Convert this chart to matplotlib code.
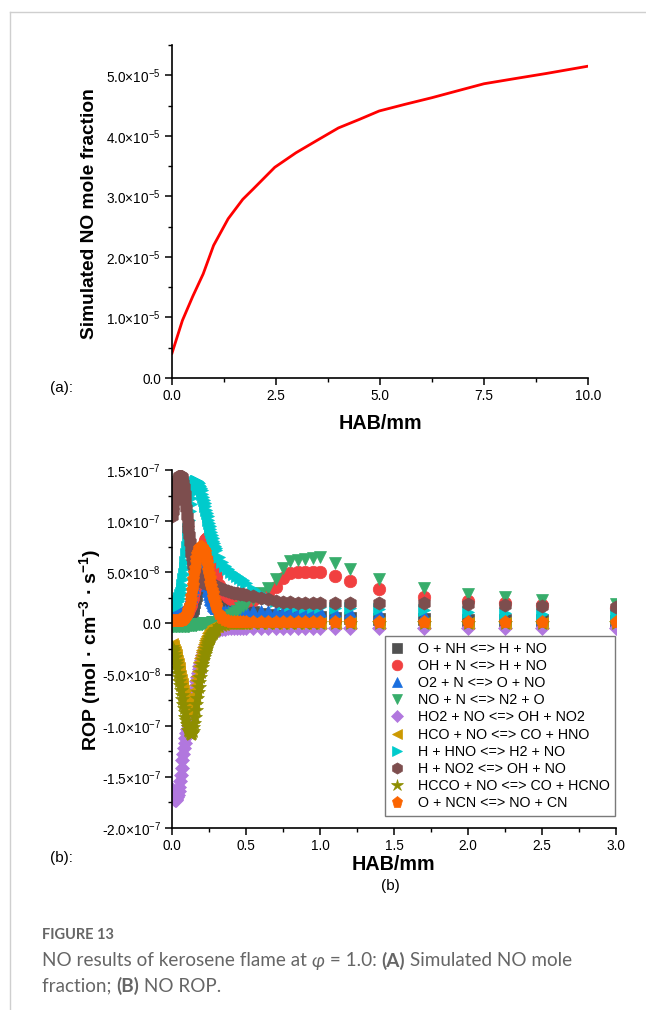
import matplotlib
matplotlib.use('Agg')
import matplotlib.pyplot as plt
from matplotlib.ticker import MultipleLocator, FuncFormatter
from matplotlib.lines import Line2D
import numpy as np

plt.rcParams['font.family'] = ['Liberation Sans', 'DejaVu Sans']
plt.rcParams['mathtext.fontset'] = 'custom'
plt.rcParams['mathtext.rm'] = 'Liberation Sans'
plt.rcParams['mathtext.bf'] = 'Liberation Sans:bold'
plt.rcParams['mathtext.it'] = 'Liberation Sans:italic'

# ---------------- data: panel (a) ----------------
hab_a = [0.0, 0.25, 0.5, 0.75, 1.0, 1.35, 1.7, 1.95, 2.47, 2.98, 3.5, 4.0, 4.5, 4.98, 5.6, 6.25, 6.9, 7.5, 8.2, 9.0, 10.0]
no_frac_e5 = [0.41, 0.95, 1.35, 1.72, 2.19, 2.63, 2.95, 3.12, 3.48, 3.72, 3.93, 4.13, 4.27, 4.41, 4.52, 4.63, 4.75, 4.86, 4.94, 5.03, 5.15]

# ---------------- data: panel (b), ROP in units of 1e-8 mol/cm3/s ----------------
hab_b = [0.000, 0.005, 0.010, 0.015, 0.020, 0.025, 0.030, 0.035, 0.040, 0.045,
         0.050, 0.055, 0.060, 0.065, 0.070, 0.075, 0.080, 0.085, 0.090, 0.095,
         0.100, 0.105, 0.110, 0.115, 0.120, 0.125, 0.130, 0.135, 0.140, 0.145,
         0.150, 0.155, 0.160, 0.165, 0.170, 0.175, 0.180, 0.185, 0.190, 0.195,
         0.200, 0.205, 0.210, 0.215, 0.220, 0.225, 0.230, 0.235, 0.240, 0.245,
         0.250, 0.255, 0.260, 0.265, 0.270, 0.275, 0.280, 0.285, 0.290, 0.295,
         0.300,
         0.32, 0.34, 0.36, 0.38, 0.40, 0.42, 0.44, 0.46, 0.48, 0.50,
         0.55, 0.60, 0.65, 0.70, 0.75, 0.80, 0.85, 0.90, 0.95, 1.00,
         1.1, 1.2, 1.4, 1.7, 2.0, 2.25, 2.5, 3.0]

rop_o_nh = [0.3, 0.3, 0.3, 0.3, 0.3, 0.32, 0.35, 0.35, 0.35, 0.38,
            0.4, 0.4, 0.4, 0.42, 0.45, 0.48, 0.5, 0.52, 0.55, 0.58,
            0.6, 0.68, 0.75, 0.82, 0.9, 1.05, 1.2, 1.35, 1.5, 1.8,
            2.1, 2.45, 2.8, 3.15, 3.5, 3.85, 4.2, 4.45, 4.7, 4.85,
            5.0, 5.05, 5.1, 5.05, 5.0, 4.9, 4.8, 4.65, 4.5, 4.3,
            4.1, 3.95, 3.8, 3.65, 3.5, 3.35, 3.2, 3.1, 3.0, 2.9,
            2.8,
            2.5, 2.3, 2.1, 2.0, 1.9, 1.8, 1.7, 1.6, 1.45, 1.3,
            1.1, 0.9, 0.8, 0.75, 0.7, 0.65, 0.62, 0.6, 0.6, 0.6,
            0.55, 0.5, 0.45, 0.4, 0.35, 0.3, 0.3, 0.25]
rop_oh_n = [0.2, 0.2, 0.2, 0.2, 0.2, 0.22, 0.25, 0.28, 0.3, 0.32,
            0.35, 0.38, 0.4, 0.45, 0.5, 0.55, 0.6, 0.7, 0.8, 0.9,
            1.0, 1.15, 1.3, 1.45, 1.6, 1.8, 2.0, 2.25, 2.5, 2.8,
            3.1, 3.45, 3.8, 4.15, 4.5, 4.9, 5.3, 5.65, 6.0, 6.4,
            6.8, 7.15, 7.5, 7.75, 8.0, 8.15, 8.3, 8.35, 8.3, 8.1,
            7.8, 7.5, 7.2, 6.8, 6.4, 6.0, 5.6, 5.3, 5.0, 4.75,
            4.5,
            3.8, 3.3, 2.9, 2.6, 2.4, 2.3, 2.2, 2.2, 2.2, 2.2,
            2.3, 2.6, 3.0, 3.6, 4.4, 4.9, 5.0, 5.0, 5.0, 5.0,
            4.6, 4.1, 3.4, 2.6, 2.2, 2.0, 1.8, 1.5]
rop_o2_n = [0.8, 0.8, 0.8, 0.8, 0.8, 0.82, 0.85, 0.88, 0.9, 0.92,
            0.95, 0.98, 1.0, 1.05, 1.1, 1.15, 1.2, 1.3, 1.4, 1.5,
            1.6, 1.8, 2.0, 2.2, 2.4, 2.7, 3.0, 3.3, 3.6, 3.95,
            4.3, 4.65, 5.0, 5.35, 5.7, 6.0, 6.2, 6.3, 6.3, 6.2,
            6.0, 5.8, 5.5, 5.15, 4.8, 4.45, 4.1, 3.75, 3.4, 3.15,
            2.9, 2.65, 2.4, 2.25, 2.1, 1.95, 1.8, 1.7, 1.6, 1.55,
            1.5,
            1.3, 1.2, 1.2, 1.2, 1.2, 1.2, 1.2, 1.2, 1.2, 1.2,
            1.2, 1.2, 1.2, 1.2, 1.2, 1.2, 1.2, 1.2, 1.2, 1.2,
            1.15, 1.1, 1.0, 0.8, 0.6, 0.5, 0.45, 0.35]
rop_no_n = [-0.3, -0.3, -0.3, -0.3, -0.3, -0.3, -0.3, -0.3, -0.3, -0.3,
            -0.3, -0.3, -0.3, -0.3, -0.3, -0.3, -0.3, -0.3, -0.3, -0.3,
            -0.25, -0.25, -0.25, -0.22, -0.2, -0.2, -0.2, -0.2, -0.2, -0.18,
            -0.15, -0.15, -0.15, -0.12, -0.1, -0.1, -0.1, -0.08, -0.05, -0.05,
            -0.05, -0.02, 0.0, 0.0, 0.0, 0.0, 0.0, 0.0, 0.0, 0.02,
            0.05, 0.05, 0.05, 0.08, 0.1, 0.1, 0.1, 0.12, 0.15, 0.15,
            0.15,
            0.2, 0.3, 0.45, 0.6, 0.8, 1.0, 1.25, 1.5, 1.7, 1.9,
            2.4, 3.0, 3.5, 4.3, 5.4, 6.1, 6.2, 6.3, 6.4, 6.5,
            5.9, 5.3, 4.3, 3.5, 2.9, 2.6, 2.3, 1.9]
rop_ho2_no = [-16.2, -16.7, -17.0, -17.2, -17.3, -17.3, -17.2, -17.0, -16.8, -16.4,
              -16.0, -15.4, -14.8, -14.1, -13.4, -12.8, -12.2, -11.7, -11.2, -10.7,
              -10.3, -9.9, -9.6, -9.3, -9.0, -8.7, -8.4, -8.05, -7.7, -7.3,
              -6.9, -6.45, -6.0, -5.6, -5.2, -4.85, -4.5, -4.2, -3.9, -3.6,
              -3.3, -3.05, -2.8, -2.6, -2.4, -2.2, -2.0, -1.85, -1.7, -1.55,
              -1.4, -1.3, -1.2, -1.1, -1.0, -0.95, -0.9, -0.85, -0.8, -0.75,
              -0.7,
              -0.6, -0.5, -0.5, -0.45, -0.45, -0.4, -0.4, -0.4, -0.4, -0.4,
              -0.4, -0.4, -0.4, -0.4, -0.4, -0.4, -0.4, -0.4, -0.4, -0.4,
              -0.4, -0.4, -0.4, -0.4, -0.4, -0.4, -0.4, -0.4]
rop_hco_no = [-2.0, -2.2, -2.4, -2.6, -2.8, -3.1, -3.4, -3.7, -4.0, -4.35,
              -4.7, -5.1, -5.5, -5.9, -6.3, -6.65, -7.0, -7.35, -7.7, -7.95,
              -8.2, -8.4, -8.6, -8.7, -8.8, -8.7, -8.5, -8.2, -7.8, -7.4,
              -7.0, -6.5, -6.0, -5.55, -5.1, -4.65, -4.2, -3.8, -3.4, -3.1,
              -2.8, -2.55, -2.3, -2.05, -1.8, -1.6, -1.4, -1.25, -1.1, -0.95,
              -0.8, -0.7, -0.6, -0.52, -0.45, -0.38, -0.3, -0.28, -0.25, -0.22,
              -0.2,
              -0.1, -0.05, 0.0, 0.0, 0.0, 0.0, 0.0, 0.0, 0.0, 0.0,
              0.0, 0.0, 0.0, 0.0, 0.0, 0.0, 0.0, 0.0, 0.0, 0.0,
              0.0, 0.0, 0.0, 0.0, 0.0, 0.0, 0.0, 0.0]
rop_h_hno = [1.5, 1.55, 1.6, 1.65, 1.7, 1.8, 1.9, 2.05, 2.2, 2.35,
             2.5, 2.75, 3.0, 3.4, 3.8, 4.3, 4.8, 5.4, 6.0, 6.75,
             7.5, 8.35, 9.2, 10.1, 11.0, 11.7, 12.3, 12.8, 13.2, 13.5,
             13.7, 13.8, 13.9, 13.9, 13.9, 13.8, 13.7, 13.55, 13.4, 13.2,
             13.0, 12.7, 12.4, 12.1, 11.8, 11.45, 11.1, 10.8, 10.5, 10.15,
             9.8, 9.5, 9.2, 8.9, 8.6, 8.35, 8.1, 7.85, 7.6, 7.4,
             7.2,
             6.5, 6.0, 5.6, 5.3, 5.0, 4.8, 4.6, 4.4, 4.2, 4.0,
             3.4, 2.9, 2.5, 2.2, 1.9, 1.8, 1.7, 1.6, 1.6, 1.6,
             1.5, 1.5, 1.4, 1.3, 1.1, 1.0, 0.9, 0.8]
rop_h_no2 = [10.5, 11.0, 11.5, 12.0, 12.5, 12.95, 13.4, 13.8, 14.1, 14.3,
             14.4, 14.45, 14.4, 14.3, 14.1, 13.75, 13.3, 12.7, 12.0, 11.25,
             10.5, 9.85, 9.2, 8.6, 8.0, 7.45, 6.9, 6.45, 6.0, 5.7,
             5.4, 5.15, 4.9, 4.75, 4.6, 4.5, 4.4, 4.3, 4.2, 4.15,
             4.1, 4.08, 4.05, 4.02, 4.0, 3.98, 3.95, 3.92, 3.9, 3.88,
             3.85, 3.82, 3.8, 3.78, 3.75, 3.72, 3.7, 3.68, 3.65, 3.62,
             3.6,
             3.5, 3.4, 3.3, 3.2, 3.1, 3.0, 2.95, 2.9, 2.85, 2.8,
             2.65, 2.5, 2.35, 2.2, 2.1, 2.05, 2.0, 2.0, 2.0, 2.0,
             2.0, 2.0, 2.0, 2.0, 1.9, 1.8, 1.7, 1.6]
rop_hcco_no = [-2.3, -2.5, -2.7, -3.0, -3.3, -3.65, -4.0, -4.4, -4.8, -5.2,
               -5.6, -6.05, -6.5, -6.95, -7.4, -7.85, -8.3, -8.7, -9.1, -9.45,
               -9.8, -10.1, -10.4, -10.55, -10.7, -10.75, -10.8, -10.7, -10.5, -10.15,
               -9.7, -9.1, -8.5, -7.9, -7.3, -6.75, -6.2, -5.7, -5.2, -4.75,
               -4.3, -3.95, -3.6, -3.3, -3.0, -2.75, -2.5, -2.25, -2.0, -1.8,
               -1.6, -1.45, -1.3, -1.15, -1.0, -0.9, -0.8, -0.7, -0.6, -0.55,
               -0.5,
               -0.3, -0.2, -0.1, 0.0, 0.0, 0.0, 0.0, 0.0, 0.0, 0.0,
               0.0, 0.0, 0.0, 0.0, 0.0, 0.0, 0.0, 0.0, 0.0, 0.0,
               0.0, 0.0, 0.0, 0.0, 0.0, 0.0, 0.0, 0.0]
rop_o_ncn = [0.2, 0.2, 0.2, 0.2, 0.2, 0.2, 0.2, 0.2, 0.25, 0.28,
             0.3, 0.3, 0.3, 0.35, 0.4, 0.45, 0.5, 0.6, 0.7, 0.8,
             0.9, 1.1, 1.3, 1.55, 1.8, 2.25, 2.7, 3.25, 3.8, 4.35,
             4.9, 5.45, 6.0, 6.4, 6.8, 7.0, 7.2, 7.35, 7.5, 7.5,
             7.5, 7.4, 7.3, 7.15, 7.0, 6.7, 6.4, 6.0, 5.6, 5.2,
             4.8, 4.4, 4.0, 3.65, 3.3, 2.95, 2.6, 2.35, 2.1, 1.85,
             1.6,
             0.9, 0.5, 0.3, 0.2, 0.15, 0.1, 0.1, 0.1, 0.1, 0.1,
             0.1, 0.1, 0.1, 0.1, 0.1, 0.1, 0.1, 0.1, 0.1, 0.1,
             0.1, 0.1, 0.1, 0.1, 0.1, 0.1, 0.1, 0.1]

reaction_labels = ['O + NH <=> H + NO', 'OH + N <=> H + NO', 'O2 + N <=> O + NO',
                   'NO + N <=> N2 + O', 'HO2 + NO <=> OH + NO2', 'HCO + NO <=> CO + HNO',
                   'H + HNO <=> H2 + NO', 'H + NO2 <=> OH + NO', 'HCCO + NO <=> CO + HCNO',
                   'O + NCN <=> NO + CN']
rop_series = [rop_o_nh, rop_oh_n, rop_o2_n, rop_no_n, rop_ho2_no, rop_hco_no,
              rop_h_hno, rop_h_no2, rop_hcco_no, rop_o_ncn]
colors = ['#515151', '#F14040', '#1A6FDF', '#37AD6B', '#B177DE', '#CC9900',
          '#00CBCC', '#7D4E4E', '#8E8E00', '#FB6501']
markers = ['s', 'o', '^', 'v', 'D', '<', '>', 'h', '*', 'p']
msizes = [8, 9, 9, 9, 7.5, 9, 9, 9.5, 10.5, 9.5]

W, H = 646, 1010
fig = plt.figure(figsize=(W / 100, H / 100), dpi=100)


def fx(px):
    return px / W


def fy(py):
    return 1 - py / H


def sci_fmt(v, pos):
    if abs(v) < 1e-20:
        return '0.0'
    e = int(np.floor(np.log10(abs(v)) + 1e-9))
    m = v / 10 ** e
    return f'{m:.1f}×10$^{{{e}}}$'


def style_axes(ax):
    for s in ['top', 'right']:
        ax.spines[s].set_visible(False)
    for s in ['left', 'bottom']:
        ax.spines[s].set_linewidth(1.2)
    ax.tick_params(which='major', direction='out', length=5, width=1.1, labelsize=9.8, pad=3)
    ax.tick_params(which='minor', direction='out', length=3, width=1.0)


# ---------------- panel (a) ----------------
ax1 = fig.add_axes([fx(172), fy(378), (588 - 172) / W, (378 - 45) / H])
ax1.plot(hab_a, np.array(no_frac_e5) * 1e-5, color='#FF0000', lw=2.0)
ax1.set_xlim(0, 10)
ax1.set_ylim(0, 5.5e-5)
ax1.xaxis.set_major_locator(MultipleLocator(2.5))
ax1.xaxis.set_minor_locator(MultipleLocator(1.25))
ax1.yaxis.set_major_locator(MultipleLocator(1e-5))
ax1.yaxis.set_minor_locator(MultipleLocator(0.5e-5))
ax1.yaxis.set_major_formatter(FuncFormatter(sci_fmt))
ax1.xaxis.set_major_formatter(FuncFormatter(lambda v, p: f'{v:.1f}'))
style_axes(ax1)

fig.text(fx(90), fy(214), 'Simulated NO mole fraction', rotation=90, ha='center', va='center',
         fontsize=13.8, fontweight='bold')
fig.text(fx(380), fy(424), 'HAB/mm', ha='center', va='center', fontsize=14.2, fontweight='bold')
fig.text(fx(50), fy(388), '(a):', ha='left', va='center', fontsize=11)

# ---------------- panel (b) ----------------
ax2 = fig.add_axes([fx(172), fy(828), (616 - 172) / W, (828 - 470) / H])
for vals, lab, c, m, ms in zip(rop_series, reaction_labels, colors, markers, msizes):
    ax2.plot(hab_b, np.array(vals) * 1e-8, linestyle='none', marker=m, markersize=ms,
             color=c, markeredgecolor=c, markeredgewidth=0.5, label=lab)
ax2.set_xlim(0, 3.0)
ax2.set_ylim(-2.0e-7, 1.5e-7)
ax2.xaxis.set_major_locator(MultipleLocator(0.5))
ax2.xaxis.set_minor_locator(MultipleLocator(0.25))
ax2.yaxis.set_major_locator(MultipleLocator(0.5e-7))
ax2.yaxis.set_minor_locator(MultipleLocator(0.25e-7))
ax2.yaxis.set_major_formatter(FuncFormatter(sci_fmt))
ax2.xaxis.set_major_formatter(FuncFormatter(lambda v, p: f'{v:.1f}'))
style_axes(ax2)

leg = ax2.legend(loc='lower right', bbox_to_anchor=(0.998, 0.034), borderaxespad=0.0,
                 frameon=True, fancybox=False, edgecolor='#7a7a7a', framealpha=1.0,
                 fontsize=10.3, handlelength=1.0, handletextpad=0.9, borderpad=0.4,
                 labelspacing=0.22, numpoints=1, markerscale=0.85)
leg.get_frame().set_linewidth(1.0)

fig.text(fx(90), fy(650), r'ROP (mol · cm$^{\mathbf{-3}}$ · s$^{\mathbf{-1}}$)', rotation=90,
         ha='center', va='center', fontsize=14, fontweight='bold')
fig.text(fx(393), fy(864), 'HAB/mm', ha='center', va='center', fontsize=14.2, fontweight='bold')
fig.text(fx(50), fy(858), '(b):', ha='left', va='center', fontsize=11)
fig.text(fx(390), fy(886), '(b)', ha='center', va='center', fontsize=11)

# ---------------- page frame ----------------
fig.add_artist(Line2D([fx(10), 1.0], [fy(12), fy(12)], color='#cfcfcf', lw=1.0))
fig.add_artist(Line2D([fx(10), fx(10)], [fy(12), 0.0], color='#cfcfcf', lw=1.0))

# ---------------- caption ----------------
cap_color = '#666666'
cap_family = ['Lato', 'DejaVu Sans']
fig.text(fx(42), fy(935), 'FIGURE 13', ha='left', va='center', fontsize=10.5,
         fontweight='bold', color=cap_color, family=cap_family)

renderer = fig.canvas.get_renderer()


def rich_line(x_px, y_px, pieces, size):
    x = x_px
    for txt, kw in pieces:
        t = fig.text(fx(x), fy(y_px), txt, ha='left', va='center', fontsize=size,
                     color=cap_color, family=cap_family, **kw)
        bb = t.get_window_extent(renderer)
        x = bb.x1


rich_line(42, 961, [('NO results of kerosene flame at ', {}), ('φ', {'style': 'italic'}),
                    (' = 1.0: ', {}), ('(A)', {'fontweight': 'bold'}),
                    (' Simulated NO mole', {})], 13.6)
rich_line(42, 986, [('fraction; ', {}), ('(B)', {'fontweight': 'bold'}), (' NO ROP.', {})], 13.6)

fig.savefig('out.png', dpi=100)
